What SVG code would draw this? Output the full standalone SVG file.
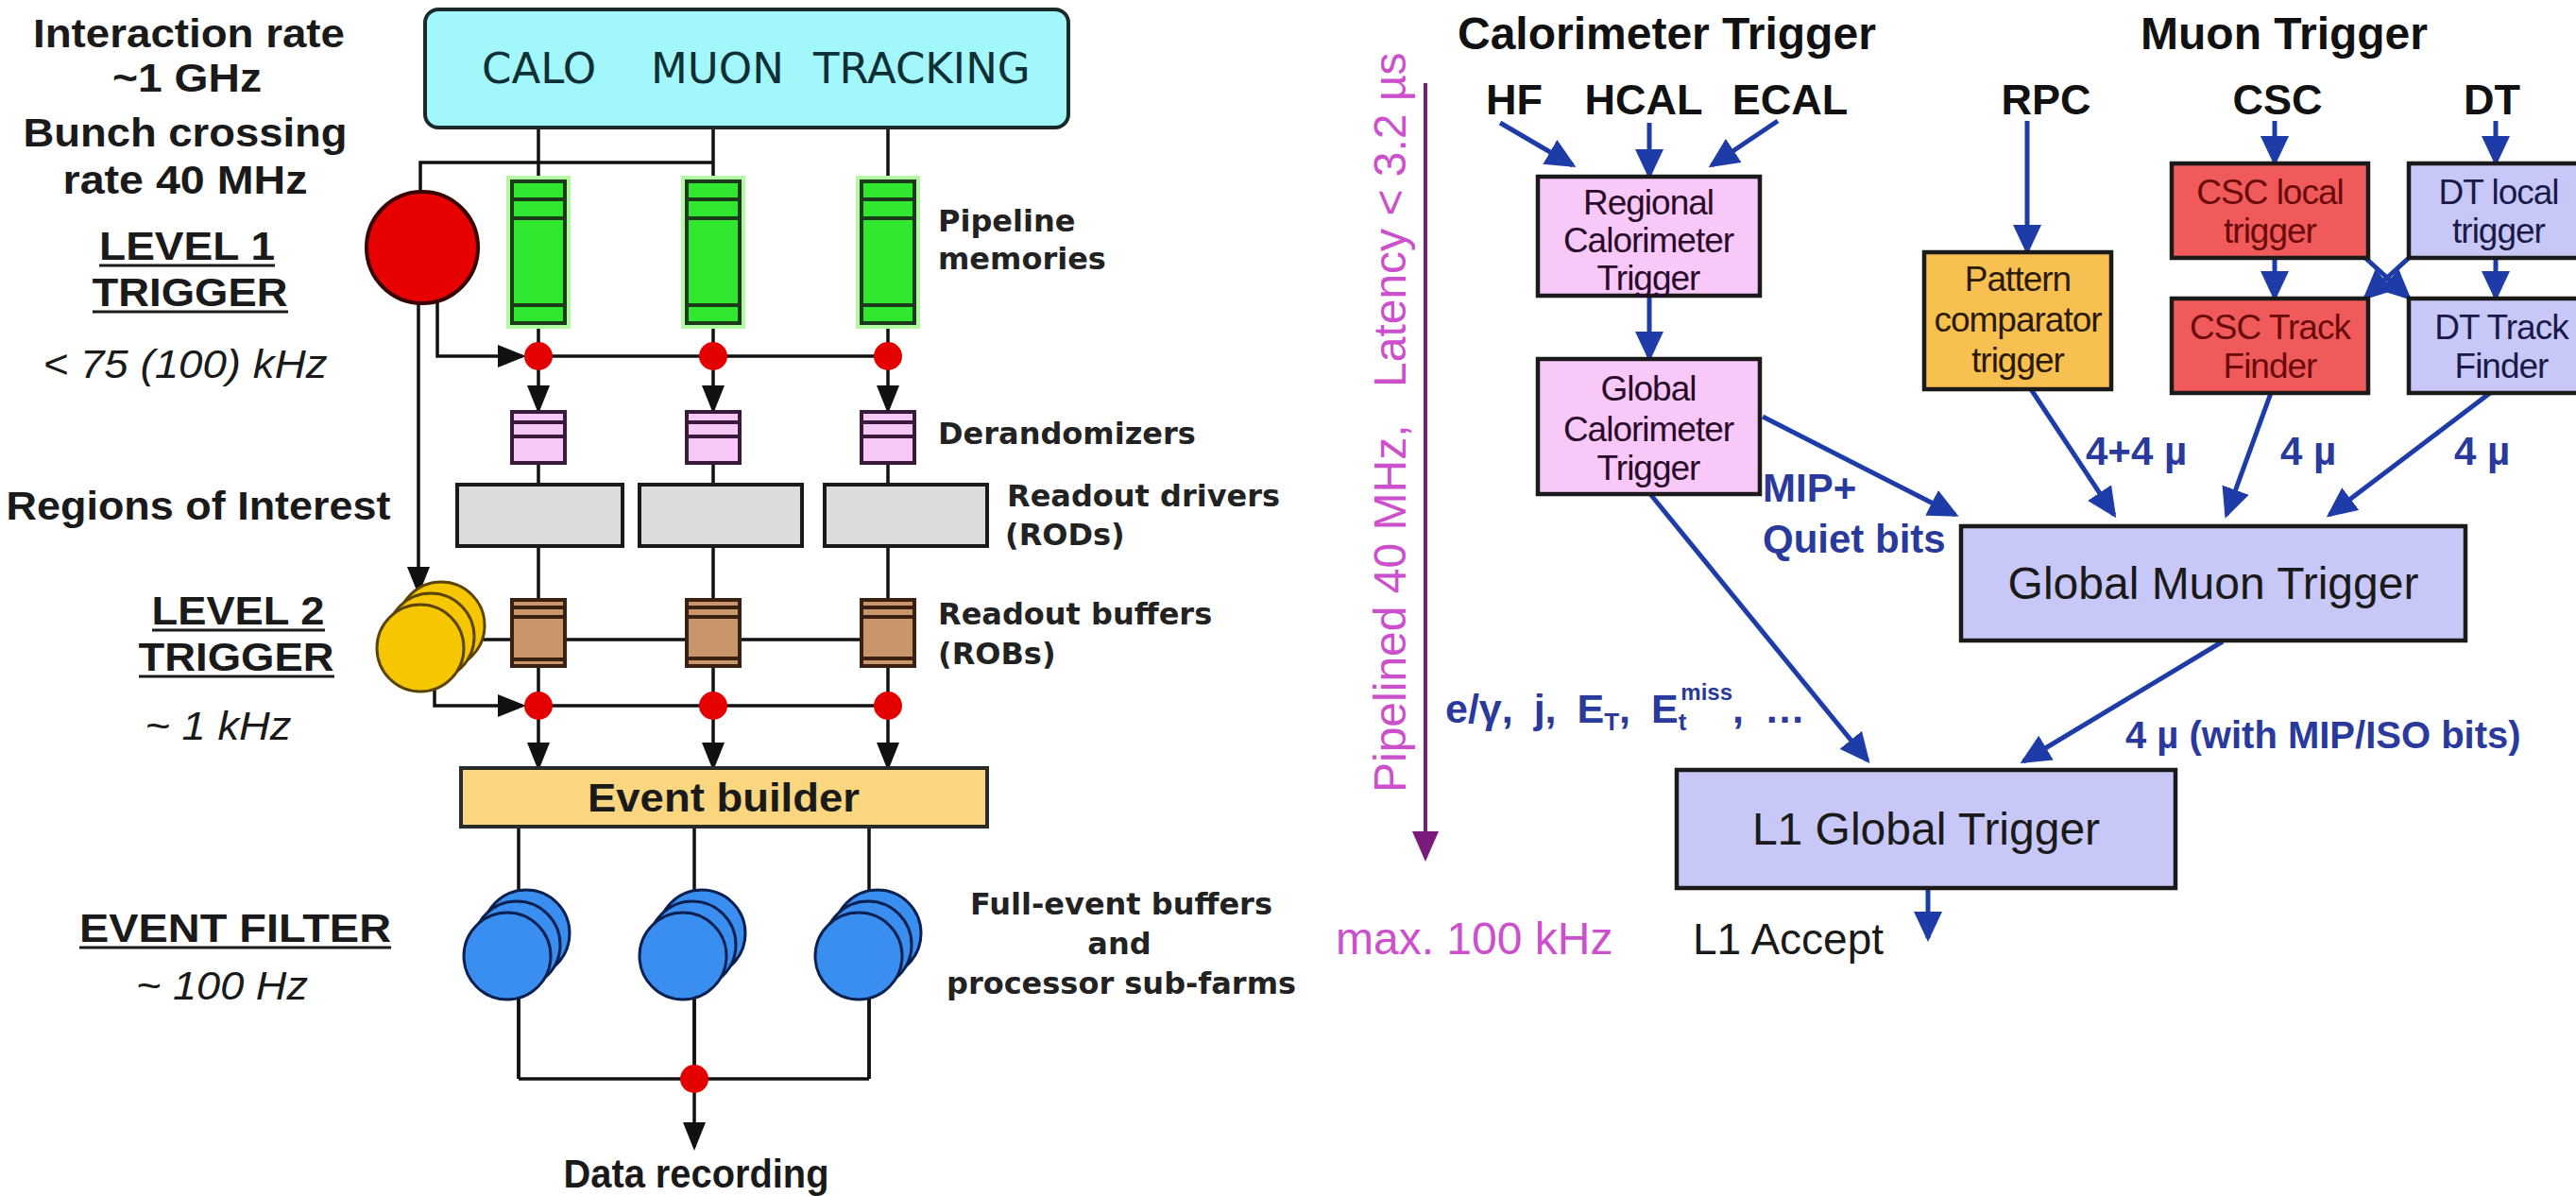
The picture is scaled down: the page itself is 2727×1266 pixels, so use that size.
<svg xmlns="http://www.w3.org/2000/svg" width="2727" height="1266" viewBox="0 0 2727 1266">
<defs>
<style>
.lbl{font-family:"Liberation Sans",Arial,sans-serif;font-weight:bold;font-size:42px;fill:#1a1a1a;text-anchor:middle}
.it{font-style:italic;font-weight:normal}
.side{font-family:"DejaVu Sans",Verdana,sans-serif;font-weight:bold;font-size:32px;fill:#222}
.mid{text-anchor:middle}
.det{font-family:"DejaVu Sans",Verdana,sans-serif;font-size:45px;fill:#0d2f35}
.ln{stroke:#111;stroke-width:3.5;fill:none}
.ul{stroke:#1a1a1a;stroke-width:3}
.bl{stroke:#1e3ca8;stroke-width:5;fill:none;marker-end:url(#ab)}
.hd{font-family:"Liberation Sans",Arial,sans-serif;font-weight:bold;font-size:48px;fill:#111}
.src{font-family:"Liberation Sans",Arial,sans-serif;font-weight:bold;font-size:45px;fill:#111;text-anchor:middle}
.bx{font-family:"Liberation Sans",Arial,sans-serif;font-size:37px;text-anchor:middle;letter-spacing:-1px}
.big{font-family:"Liberation Sans",Arial,sans-serif;font-size:48px;fill:#1a1a1a}
.blt{font-family:"Liberation Sans",Arial,sans-serif;font-weight:bold;font-size:42px;fill:#2a3a9c}
.mag{font-family:"Liberation Sans",Arial,sans-serif;font-size:48px;fill:#cc4fcc}
.box{stroke:#1a1a1a;stroke-width:4.5}
.green{fill:#2fe82f;stroke:#1a3a1a;stroke-width:4}
.glow{fill:none;stroke:#b4f8a4;stroke-width:12}
.der{fill:#f5c8f5;stroke:#3a1a3a;stroke-width:4}
.rod{fill:#dcdcdc;stroke:#1a1a1a;stroke-width:4}
.rob{fill:#c8966a;stroke:#3a2010;stroke-width:4}
.dot{fill:#e40000}
.yel{fill:#f6c600;stroke:#5a4400;stroke-width:3}
.blu{fill:#3a8ef0;stroke:#0a2050;stroke-width:3}
</style>
<marker id="ak" markerUnits="userSpaceOnUse" markerWidth="30" markerHeight="24" refX="26" refY="12" orient="auto"><path d="M0,0 L30,12 L0,24 z" fill="#111"/></marker>
<marker id="ab" markerUnits="userSpaceOnUse" markerWidth="32" markerHeight="30" refX="28" refY="15" orient="auto"><path d="M0,0 L32,15 L0,30 z" fill="#1e3ca8"/></marker>
<marker id="ap" markerUnits="userSpaceOnUse" markerWidth="32" markerHeight="28" refX="28" refY="14" orient="auto"><path d="M0,0 L32,14 L0,28 z" fill="#7a1a7a"/></marker>
</defs>
<rect width="2727" height="1266" fill="#ffffff"/>

<!-- LEFT PANEL labels -->
<g id="left-labels">
<text class="lbl" x="200" y="50" textLength="330" lengthAdjust="spacingAndGlyphs">Interaction rate</text>
<text class="lbl" x="198" y="97" textLength="158" lengthAdjust="spacingAndGlyphs">~1 GHz</text>
<text class="lbl" x="196" y="155" textLength="343" lengthAdjust="spacingAndGlyphs">Bunch crossing</text>
<text class="lbl" x="196" y="205" textLength="259" lengthAdjust="spacingAndGlyphs">rate 40 MHz</text>
<text class="lbl" x="198" y="275" textLength="186" lengthAdjust="spacingAndGlyphs">LEVEL 1</text>
<line class="ul" x1="105" y1="281" x2="291" y2="281"/>
<text class="lbl" x="201" y="324" textLength="207" lengthAdjust="spacingAndGlyphs">TRIGGER</text>
<line class="ul" x1="98" y1="330" x2="305" y2="330"/>
<text class="lbl it" x="196" y="400" textLength="301" lengthAdjust="spacingAndGlyphs">&lt; 75 (100) kHz</text>
<text class="lbl" x="210" y="550" textLength="407" lengthAdjust="spacingAndGlyphs">Regions of Interest</text>
<text class="lbl" x="252" y="661" textLength="183" lengthAdjust="spacingAndGlyphs">LEVEL 2</text>
<line class="ul" x1="161" y1="667" x2="344" y2="667"/>
<text class="lbl" x="250" y="710" textLength="207" lengthAdjust="spacingAndGlyphs">TRIGGER</text>
<line class="ul" x1="147" y1="716" x2="354" y2="716"/>
<text class="lbl it" x="231" y="783" textLength="155" lengthAdjust="spacingAndGlyphs">~ 1 kHz</text>
<text class="lbl" x="249" y="997" textLength="330" lengthAdjust="spacingAndGlyphs">EVENT FILTER</text>
<line class="ul" x1="84" y1="1003" x2="414" y2="1003"/>
<text class="lbl it" x="235" y="1058" textLength="182" lengthAdjust="spacingAndGlyphs">~ 100 Hz</text>
</g>

<g id="side-labels">
<text class="side" x="993" y="245">Pipeline</text>
<text class="side" x="993" y="285">memories</text>
<text class="side" x="993" y="470">Derandomizers</text>
<text class="side" x="1066" y="536">Readout drivers</text>
<text class="side" x="1064" y="577">(RODs)</text>
<text class="side" x="993" y="661">Readout buffers</text>
<text class="side" x="993" y="703">(ROBs)</text>
<text class="side mid" x="1187" y="968">Full-event buffers</text>
<text class="side mid" x="1185" y="1010">and</text>
<text class="side mid" x="1187" y="1052">processor sub-farms</text>
<text class="lbl" x="737" y="1257" textLength="281" lengthAdjust="spacingAndGlyphs">Data recording</text>
</g>

<!-- LEFT connectors -->
<g id="left-connectors">
<line class="ln" x1="570" y1="135" x2="570" y2="192"/>
<line class="ln" x1="755" y1="135" x2="755" y2="192"/>
<line class="ln" x1="940" y1="135" x2="940" y2="192"/>
<polyline class="ln" points="755,172 445,172 445,203"/>
<line class="ln" x1="443" y1="318" x2="443" y2="626" marker-end="url(#ak)"/>
<polyline class="ln" points="463,318 463,377 553,377" marker-end="url(#ak)"/>
<line class="ln" x1="570" y1="377" x2="940" y2="377"/>
<line class="ln" x1="570" y1="342" x2="570" y2="377"/>
<line class="ln" x1="755" y1="342" x2="755" y2="377"/>
<line class="ln" x1="940" y1="342" x2="940" y2="377"/>
<line class="ln" x1="570" y1="390" x2="570" y2="434" marker-end="url(#ak)"/>
<line class="ln" x1="755" y1="390" x2="755" y2="434" marker-end="url(#ak)"/>
<line class="ln" x1="940" y1="390" x2="940" y2="434" marker-end="url(#ak)"/>
<line class="ln" x1="570" y1="490" x2="570" y2="513"/>
<line class="ln" x1="755" y1="490" x2="755" y2="513"/>
<line class="ln" x1="940" y1="490" x2="940" y2="513"/>
<line class="ln" x1="570" y1="578" x2="570" y2="635"/>
<line class="ln" x1="755" y1="578" x2="755" y2="635"/>
<line class="ln" x1="940" y1="578" x2="940" y2="635"/>
<line class="ln" x1="505" y1="677" x2="940" y2="677"/>
<polyline class="ln" points="460,728 460,747 553,747" marker-end="url(#ak)"/>
<line class="ln" x1="570" y1="747" x2="940" y2="747"/>
<line class="ln" x1="570" y1="705" x2="570" y2="747"/>
<line class="ln" x1="755" y1="705" x2="755" y2="747"/>
<line class="ln" x1="940" y1="705" x2="940" y2="747"/>
<line class="ln" x1="570" y1="760" x2="570" y2="812" marker-end="url(#ak)"/>
<line class="ln" x1="755" y1="760" x2="755" y2="812" marker-end="url(#ak)"/>
<line class="ln" x1="940" y1="760" x2="940" y2="812" marker-end="url(#ak)"/>
<line class="ln" x1="549" y1="875" x2="549" y2="1142"/>
<line class="ln" x1="735" y1="875" x2="735" y2="1142"/>
<line class="ln" x1="920" y1="875" x2="920" y2="1142"/>
<line class="ln" x1="549" y1="1142" x2="920" y2="1142"/>
<line class="ln" x1="735" y1="1150" x2="735" y2="1214" marker-end="url(#ak)"/>
</g>

<!-- LEFT nodes -->
<g id="detectors">
<rect x="450" y="10" width="681" height="125" rx="14" fill="#a2f7fb" stroke="#1a2a2a" stroke-width="4"/>
<text class="det" x="510" y="88">CALO</text>
<text class="det" x="689" y="88">MUON</text>
<text class="det" x="861" y="88">TRACKING</text>
</g>
<g id="level1-trigger">
<circle cx="447" cy="262" r="59" fill="#e60000" stroke="#3a0000" stroke-width="4"/>
</g>
<g id="pipeline-memories">
<rect class="glow" x="542" y="192" width="56" height="150"/>
<rect class="glow" x="727" y="192" width="56" height="150"/>
<rect class="glow" x="912" y="192" width="56" height="150"/>
<rect class="green" x="542" y="192" width="56" height="150"/>
<rect class="green" x="727" y="192" width="56" height="150"/>
<rect class="green" x="912" y="192" width="56" height="150"/>
<path d="M542,211H598M542,231H598M542,323H598M727,211H783M727,231H783M727,323H783M912,211H968M912,231H968M912,323H968" stroke="#1a3a1a" stroke-width="4"/>
</g>
<g id="l1-accept-points">
<circle class="dot" cx="570" cy="377" r="15"/>
<circle class="dot" cx="755" cy="377" r="15"/>
<circle class="dot" cx="940" cy="377" r="15"/>
</g>
<g id="derandomizers">
<rect class="der" x="542" y="436" width="56" height="54"/>
<rect class="der" x="727" y="436" width="56" height="54"/>
<rect class="der" x="912" y="436" width="56" height="54"/>
<path d="M542,447H598M542,462H598M727,447H783M727,462H783M912,447H968M912,462H968" stroke="#3a1a3a" stroke-width="4"/>
</g>
<g id="readout-drivers">
<rect class="rod" x="484" y="513" width="175" height="65"/>
<rect class="rod" x="677" y="513" width="172" height="65"/>
<rect class="rod" x="873" y="513" width="172" height="65"/>
</g>
<g id="level2-trigger">
<circle class="yel" cx="467" cy="662" r="46"/>
<circle class="yel" cx="456" cy="674" r="46"/>
<circle class="yel" cx="445" cy="686" r="46"/>
</g>
<g id="readout-buffers">
<rect class="rob" x="542" y="635" width="56" height="70"/>
<rect class="rob" x="727" y="635" width="56" height="70"/>
<rect class="rob" x="912" y="635" width="56" height="70"/>
<path d="M542,643H598M542,653H598M542,698H598M727,643H783M727,653H783M727,697H783M912,643H968M912,653H968M912,697H968" stroke="#3a2010" stroke-width="4"/>
</g>
<g id="l2-accept-points">
<circle class="dot" cx="570" cy="747" r="15"/>
<circle class="dot" cx="755" cy="747" r="15"/>
<circle class="dot" cx="940" cy="747" r="15"/>
</g>
<g id="event-builder">
<rect x="488" y="813" width="557" height="62" fill="#fad680" stroke="#2a2a2a" stroke-width="4"/>
<text class="lbl" x="766" y="859" textLength="288" lengthAdjust="spacingAndGlyphs">Event builder</text>
</g>
<g id="event-filter-farms">
<circle class="blu" cx="557" cy="988" r="46"/>
<circle class="blu" cx="547" cy="1000" r="46"/>
<circle class="blu" cx="537" cy="1012" r="46"/>
<circle class="blu" cx="743" cy="988" r="46"/>
<circle class="blu" cx="733" cy="1000" r="46"/>
<circle class="blu" cx="723" cy="1012" r="46"/>
<circle class="blu" cx="929" cy="988" r="46"/>
<circle class="blu" cx="919" cy="1000" r="46"/>
<circle class="blu" cx="909" cy="1012" r="46"/>
</g>
<g id="recording-point">
<line class="ln" x1="549" y1="1058" x2="549" y2="1142"/>
<line class="ln" x1="735" y1="1058" x2="735" y2="1142"/>
<line class="ln" x1="920" y1="1058" x2="920" y2="1142"/>
<circle class="dot" cx="735" cy="1142" r="15"/>
</g>

<!-- RIGHT PANEL -->
<g id="right-labels">
<text class="hd" x="1543" y="52">Calorimeter Trigger</text>
<text class="hd" x="2266" y="52">Muon Trigger</text>
<text class="src" x="1603" y="121">HF</text>
<text class="src" x="1740" y="121">HCAL</text>
<text class="src" x="1895" y="121">ECAL</text>
<text class="src" x="2166" y="121">RPC</text>
<text class="src" x="2411" y="121">CSC</text>
<text class="src" x="2638" y="121">DT</text>
<text class="mag" transform="translate(1488,839) rotate(-90)">Pipelined 40 MHz,</text>
<text class="mag" transform="translate(1488,410) rotate(-90)">Latency &lt; 3.2 µs</text>
<text class="mag" x="1414" y="1010">max. 100 kHz</text>
<text class="big" x="1792" y="1010" style="font-size:46px">L1 Accept</text>
<text class="blt" x="1866" y="531">MIP+</text>
<text class="blt" x="1866" y="585">Quiet bits</text>
<text class="blt" x="2208" y="492">4+4 µ</text>
<text class="blt" x="2414" y="492">4 µ</text>
<text class="blt" x="2598" y="492">4 µ</text>
<text class="blt" x="1530" y="765" style="font-size:43px;word-spacing:10px">e/γ, j, E<tspan font-size="26" dy="8">T</tspan><tspan dy="-8">, E</tspan><tspan font-size="26" dy="8">t</tspan><tspan font-size="24" dx="-6" dy="-32">miss</tspan><tspan dy="24">, …</tspan></text>
<text class="blt" x="2250" y="792" style="font-size:40px">4 µ (with MIP/ISO bits)</text>
</g>

<g id="right-connectors">
<line stroke="#7a1a7a" stroke-width="4" x1="1509" y1="88" x2="1509" y2="908" marker-end="url(#ap)"/>
<line class="bl" x1="1588" y1="130" x2="1665" y2="175"/>
<line class="bl" x1="1746" y1="130" x2="1746" y2="186"/>
<line class="bl" x1="1882" y1="128" x2="1812" y2="175"/>
<line class="bl" x1="1746" y1="313" x2="1746" y2="379"/>
<line class="bl" x1="2146" y1="128" x2="2146" y2="266"/>
<line class="bl" x1="2408" y1="128" x2="2408" y2="172"/>
<line class="bl" x1="2408" y1="273" x2="2408" y2="315"/>
<line class="bl" x1="2642" y1="128" x2="2642" y2="172"/>
<line class="bl" x1="2642" y1="273" x2="2642" y2="315"/>
<line class="bl" x1="2504" y1="273" x2="2550" y2="315"/>
<line class="bl" x1="2550" y1="273" x2="2504" y2="315"/>
<line class="bl" x1="2150" y1="412" x2="2238" y2="545"/>
<line class="bl" x1="2404" y1="416" x2="2357" y2="545"/>
<line class="bl" x1="2636" y1="416" x2="2466" y2="545"/>
<line class="bl" x1="1866" y1="441" x2="2070" y2="545"/>
<line class="bl" x1="1747" y1="523" x2="1977" y2="805"/>
<line class="bl" x1="2353" y1="679" x2="2142" y2="806"/>
<line class="bl" x1="2041" y1="940" x2="2041" y2="993"/>
</g>

<g id="regional-calo">
<rect class="box" x="1628" y="187" width="235" height="126" fill="#f8c8f8"/>
<text class="bx" x="1745" y="227" fill="#2a0a2a">Regional</text>
<text class="bx" x="1745" y="267" fill="#2a0a2a">Calorimeter</text>
<text class="bx" x="1745" y="307" fill="#2a0a2a">Trigger</text>
</g>
<g id="global-calo">
<rect class="box" x="1628" y="380" width="235" height="143" fill="#f8c8f8"/>
<text class="bx" x="1745" y="424" fill="#2a0a2a">Global</text>
<text class="bx" x="1745" y="467" fill="#2a0a2a">Calorimeter</text>
<text class="bx" x="1745" y="508" fill="#2a0a2a">Trigger</text>
</g>
<g id="pattern-comparator">
<rect class="box" x="2037" y="267" width="198" height="145" fill="#f8c050"/>
<text class="bx" x="2136" y="308" fill="#2a1a00">Pattern</text>
<text class="bx" x="2136" y="351" fill="#2a1a00">comparator</text>
<text class="bx" x="2136" y="394" fill="#2a1a00">trigger</text>
</g>
<g id="csc-local">
<rect class="box" x="2299" y="173" width="208" height="100" fill="#f05a5a"/>
<text class="bx" x="2403" y="216" fill="#6a0a0a">CSC local</text>
<text class="bx" x="2403" y="257" fill="#6a0a0a">trigger</text>
</g>
<g id="csc-track-finder">
<rect class="box" x="2299" y="316" width="208" height="100" fill="#f05a5a"/>
<text class="bx" x="2403" y="359" fill="#6a0a0a">CSC Track</text>
<text class="bx" x="2403" y="400" fill="#6a0a0a">Finder</text>
</g>
<g id="dt-local">
<rect class="box" x="2550" y="173" width="200" height="100" fill="#c8c8f8"/>
<text class="bx" x="2645" y="216" fill="#1a1a4a">DT local</text>
<text class="bx" x="2645" y="257" fill="#1a1a4a">trigger</text>
</g>
<g id="dt-track-finder">
<rect class="box" x="2550" y="316" width="200" height="100" fill="#c8c8f8"/>
<text class="bx" x="2648" y="359" fill="#1a1a4a">DT Track</text>
<text class="bx" x="2648" y="400" fill="#1a1a4a">Finder</text>
</g>
<g id="global-muon">
<rect class="box" x="2076" y="557" width="534" height="121" fill="#c8c8f8"/>
<text class="big mid" x="2343" y="634">Global Muon Trigger</text>
</g>
<g id="l1-global">
<rect class="box" x="1775" y="815" width="528" height="125" fill="#c8c8f8"/>
<text class="big mid" x="2039" y="894">L1 Global Trigger</text>
</g>
</svg>
